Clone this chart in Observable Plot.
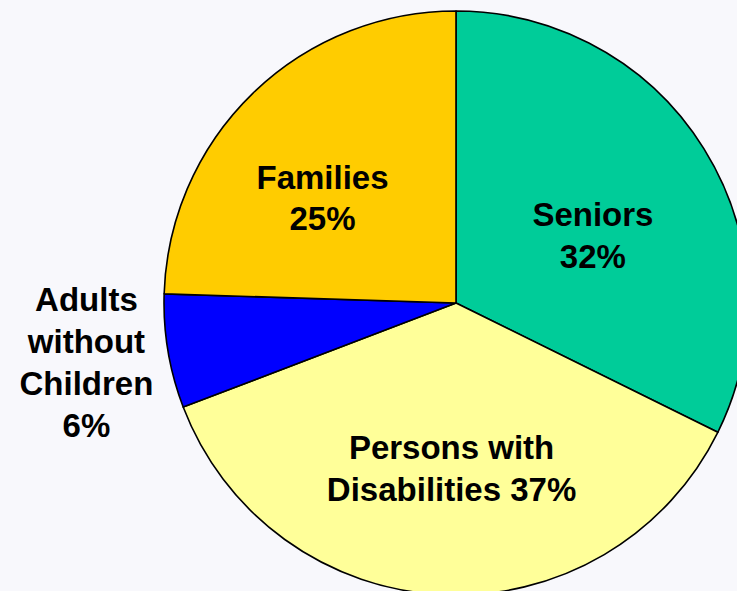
<!DOCTYPE html>
<html>
<head>
<meta charset="utf-8">
<script src="https://cdn.jsdelivr.net/npm/d3@7"></script>
<script src="https://cdn.jsdelivr.net/npm/@observablehq/plot@0.6"></script>
<style>
  html, body { margin: 0; padding: 0; background: #f8f8fc; overflow: hidden; }
</style>
</head>
<body>
<div id="chart"></div>
<script>
// ---- data ----
const categories = ["Seniors", "Persons with Disabilities", "Adults without Children", "Families"];
const shares = [32.3, 36.9, 6.3, 24.5];
const labelText = ["Seniors\n32%", "Persons with\nDisabilities 37%", "Adults\nwithout\nChildren\n6%", "Families\n25%"];
const sliceColors = ["#00CC99", "#FFFF99", "#0000FF", "#FFCC00"];

// ---- layout constants (pixels) ----
const W = 737, H = 591;
const CX = 456, CY = 303, R = 292;
// label nudges in pie-radius units
const labelNudge = [[0, -0.052], [0.009, -0.009], [-0.005, 0.016], [-0.076, -0.027]];

const rows = categories.map((c, i) => ({category: c, share: shares[i], label: labelText[i]}));
const arcs = d3.pie().value(d => d.share).sort(null)(rows);
const color = Plot.scale({color: {type: "ordinal", domain: categories, range: sliceColors}});

const labels = arcs.map((a, i) => {
  const mid = (a.startAngle + a.endAngle) / 2;
  const rad = a.data.share < 10 ? 1.28 : 0.55;
  return {
    label: a.data.label,
    x: rad * Math.sin(mid) + labelNudge[i][0],
    y: rad * Math.cos(mid) + labelNudge[i][1]
  };
});

function pieMark(index, scales) {
  const cx = scales.x(0), cy = scales.y(0);
  const r = scales.x(1) - scales.x(0);
  const arc = d3.arc().innerRadius(0).outerRadius(r);
  const g = d3.create("svg:g").attr("transform", `translate(${cx},${cy})`);
  g.selectAll("path").data(arcs).join("path")
    .attr("d", arc)
    .attr("fill", d => color.apply(d.data.category))
    .attr("stroke", "#000")
    .attr("stroke-width", 1.6)
    .attr("stroke-linejoin", "round");
  return g.node();
}

const plot = Plot.plot({
  width: W,
  height: H,
  margin: 0,
  style: {background: "#f8f8fc", overflow: "hidden"},
  x: {domain: [-CX / R, (W - CX) / R], range: [0, W], axis: null},
  y: {domain: [-(H - CY) / R, CY / R], range: [H, 0], axis: null},
  marks: [
    pieMark,
    Plot.text(labels, {
      x: "x", y: "y", text: "label",
      lineAnchor: "middle",
      lineHeight: 1.27,
      fontSize: 33,
      fontWeight: "bold",
      fontFamily: "'Liberation Sans', Arial, sans-serif",
      fill: "#000"
    })
  ]
});
document.getElementById("chart").appendChild(plot);
</script>
</body>
</html>
